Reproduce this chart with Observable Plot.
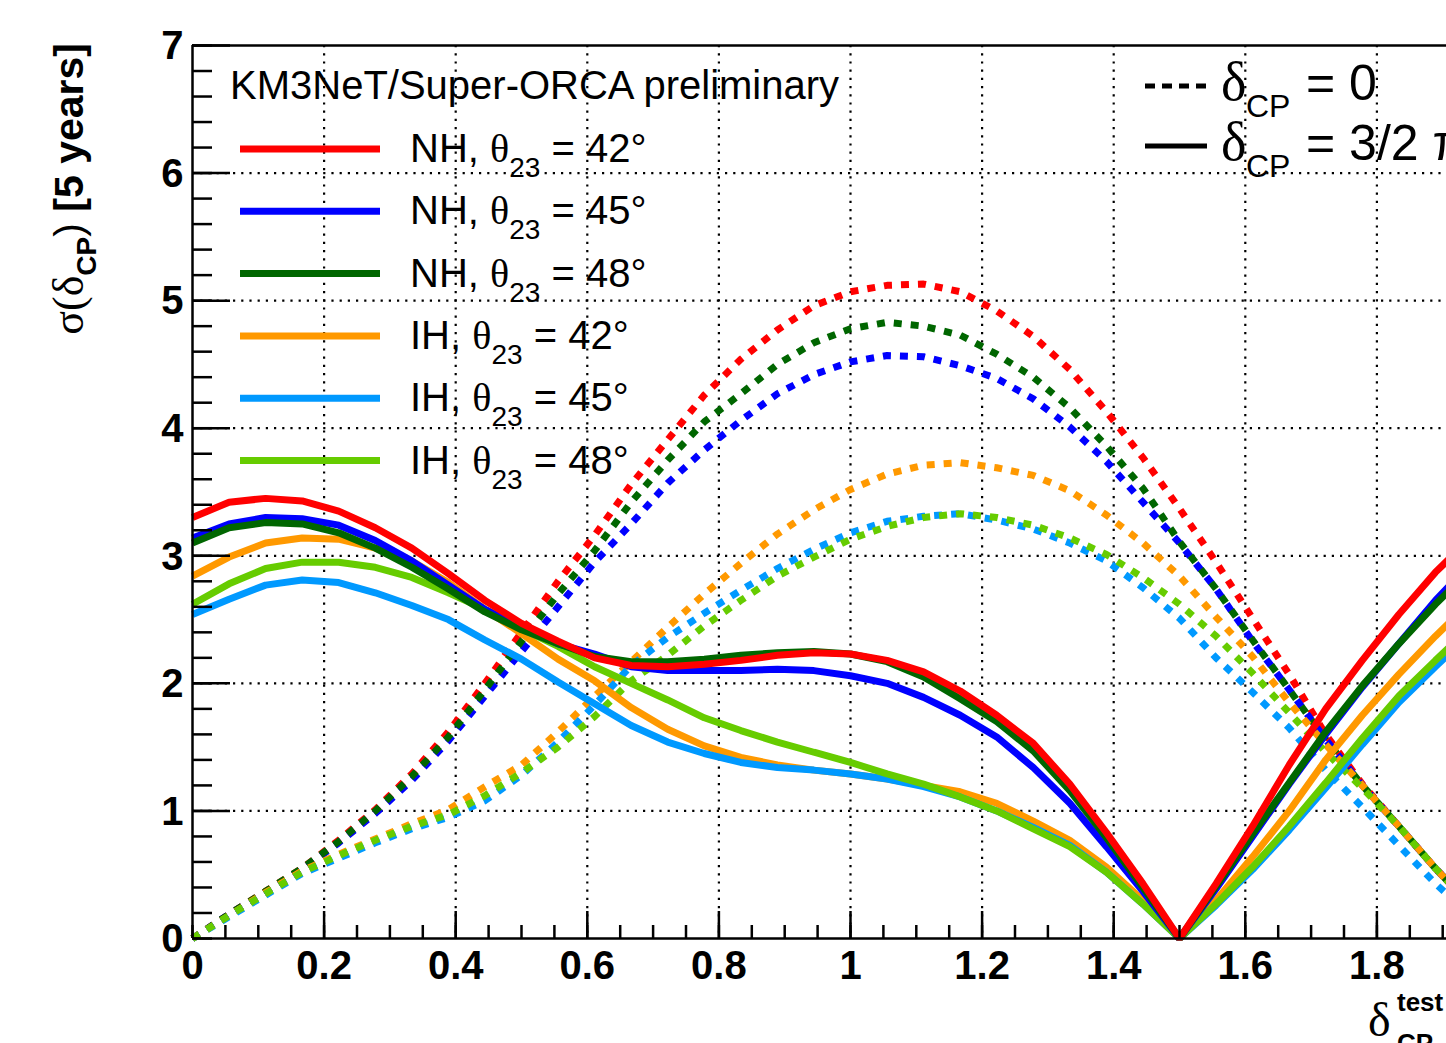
<!DOCTYPE html>
<html><head><meta charset="utf-8">
<script src="https://cdn.jsdelivr.net/npm/d3@7"></script>
<script src="https://cdn.jsdelivr.net/npm/@observablehq/plot@0.6"></script>
<style>
html,body{margin:0;padding:0;overflow:hidden;background:#fff;}
#chart{position:relative;width:1446px;height:1043px;overflow:hidden;}
#chart svg{max-width:none !important;display:block;}
</style></head><body><div id="chart"></div>
<script>
// ---- data ----
const xs = [0,0.0556,0.1111,0.1667,0.2222,0.2778,0.3333,0.3889,0.4444,0.5,0.5556,0.6111,0.6667,0.7222,0.7778,0.8333,0.8889,0.9444,1,1.0556,1.1111,1.1667,1.2222,1.2778,1.3333,1.3889,1.4444,1.5,1.5556,1.6111,1.6667,1.7222,1.7778,1.8333,1.8889,1.9444,2];

// true delta_CP = 3/2 (solid)
const nh42_s = [3.30,3.42,3.45,3.43,3.35,3.22,3.06,2.86,2.65,2.47,2.33,2.20,2.14,2.13,2.15,2.18,2.22,2.24,2.23,2.18,2.09,1.94,1.75,1.53,1.21,0.83,0.43,0,0.43,0.88,1.36,1.80,2.18,2.54,2.87,3.15];
const nh45_s = [3.14,3.25,3.30,3.29,3.24,3.12,2.96,2.77,2.58,2.44,2.31,2.23,2.13,2.10,2.10,2.10,2.11,2.10,2.06,2.00,1.89,1.75,1.58,1.34,1.06,0.72,0.37,0,0.39,0.80,1.21,1.60,1.97,2.31,2.65,2.95];
const nh48_s = [3.10,3.22,3.26,3.25,3.18,3.06,2.91,2.74,2.56,2.42,2.31,2.21,2.17,2.17,2.19,2.22,2.24,2.25,2.23,2.17,2.05,1.88,1.70,1.47,1.16,0.79,0.40,0,0.41,0.82,1.22,1.62,1.98,2.31,2.62,2.90];
const ih42_s = [2.84,2.99,3.10,3.14,3.13,3.06,2.96,2.79,2.58,2.39,2.19,2.02,1.81,1.64,1.51,1.42,1.36,1.32,1.29,1.25,1.20,1.15,1.06,0.92,0.77,0.56,0.30,0,0.30,0.64,1.00,1.40,1.75,2.07,2.37,2.65];
const ih45_s = [2.54,2.66,2.77,2.81,2.79,2.71,2.61,2.50,2.34,2.19,2.01,1.84,1.67,1.54,1.45,1.38,1.34,1.32,1.29,1.25,1.19,1.11,1.00,0.87,0.73,0.52,0.27,0,0.26,0.54,0.85,1.18,1.52,1.85,2.13,2.40];
const ih48_s = [2.62,2.78,2.90,2.95,2.95,2.91,2.83,2.71,2.58,2.43,2.29,2.13,2.00,1.87,1.73,1.63,1.54,1.46,1.38,1.29,1.21,1.11,1.00,0.86,0.72,0.52,0.27,0,0.27,0.56,0.88,1.22,1.57,1.90,2.18,2.45];

// true delta_CP = 0 (dotted)
const nh42_d = [0,0.19,0.37,0.55,0.77,1.01,1.29,1.62,2.00,2.40,2.80,3.16,3.56,3.91,4.26,4.54,4.77,4.96,5.07,5.12,5.13,5.07,4.92,4.72,4.46,4.13,3.77,3.37,2.95,2.51,2.07,1.60,1.21,0.88,0.55,0.25,0];
const nh45_d = [0,0.19,0.36,0.54,0.75,0.98,1.24,1.55,1.90,2.25,2.60,2.95,3.25,3.57,3.83,4.06,4.27,4.42,4.52,4.57,4.56,4.49,4.39,4.23,4.01,3.74,3.42,3.10,2.74,2.33,1.95,1.56,1.20,0.88,0.55,0.25,0];
const nh48_d = [0,0.19,0.37,0.55,0.76,1.00,1.27,1.58,1.95,2.33,2.70,3.04,3.42,3.75,4.05,4.27,4.50,4.67,4.78,4.83,4.80,4.73,4.58,4.40,4.16,3.86,3.53,3.11,2.74,2.34,1.95,1.56,1.20,0.88,0.55,0.25,0];
const ih42_d = [0,0.18,0.36,0.53,0.66,0.78,0.90,1.01,1.19,1.36,1.62,1.90,2.17,2.44,2.70,2.94,3.17,3.36,3.52,3.64,3.71,3.73,3.69,3.63,3.51,3.32,3.10,2.84,2.52,2.21,1.85,1.52,1.20,0.88,0.55,0.25,0];
const ih45_d = [0,0.17,0.34,0.51,0.63,0.75,0.86,0.95,1.08,1.28,1.54,1.83,2.14,2.36,2.55,2.73,2.90,3.05,3.18,3.27,3.31,3.33,3.28,3.21,3.10,2.96,2.75,2.51,2.20,1.93,1.65,1.32,1.03,0.73,0.43,0.17,0];
const ih48_d = [0,0.18,0.35,0.52,0.65,0.77,0.88,0.97,1.12,1.30,1.50,1.74,2.02,2.22,2.45,2.65,2.84,2.99,3.13,3.23,3.30,3.33,3.30,3.24,3.14,3.01,2.83,2.62,2.37,2.08,1.77,1.46,1.18,0.88,0.55,0.25,0];

const hierarchy = ["NH","NH","NH","IH","IH","IH"];
const theta23 = ["42","45","48","42","45","48"];
const xTickVals = [0,0.2,0.4,0.6,0.8,1,1.2,1.4,1.6,1.8];
const xTickLabels = ["0","0.2","0.4","0.6","0.8","1","1.2","1.4","1.6","1.8"];
const yTickVals = [0,1,2,3,4,5,6,7];
const yTickLabels = ["0","1","2","3","4","5","6","7"];

// ---- styles ----
const colors = ["#ff0000","#0000ff","#006600","#ff9900","#0099ff","#66cc00"];
const solids = [nh42_s, nh45_s, nh48_s, ih42_s, ih45_s, ih48_s];
const dotted = [nh42_d, nh45_d, nh48_d, ih42_d, ih45_d, ih48_d];
const dottedOrder = [0,1,2,3,4,5];
const solidOrder = [3,4,5,1,2,0];

const W = 1530, H = 1043, ML = 192, MR = 22, MT = 45, MB = 105;
const pxX = (W - ML - MR) / 2;
const pxY = (H - MT - MB) / 7;
const SANS = "'Liberation Sans', Arial, Helvetica, sans-serif";
const SERIF = "'Liberation Serif', 'Times New Roman', serif";

const toRows = vals => vals.map((v, i) => ({x: xs[i], y: v}));

const marks = [];
// grid
marks.push(Plot.ruleX([0.2,0.4,0.6,0.8,1,1.2,1.4,1.6,1.8,2], {stroke:"#000", strokeWidth:2.2, strokeDasharray:"2.2,6"}));
marks.push(Plot.ruleY([1,2,3,4,5,6], {stroke:"#000", strokeWidth:2.2, strokeDasharray:"2.2,6"}));
// dotted curves (true δCP = 0)
for (const i of dottedOrder) {
  marks.push(Plot.line(toRows(dotted[i]), {x:"x", y:"y", stroke: colors[i], strokeWidth:7, strokeDasharray:"8,9", strokeLinecap:"butt", strokeLinejoin:"miter"}));
}
// solid curves (true δCP = 3/2 π)
for (const i of solidOrder) {
  marks.push(Plot.line(toRows(solids[i]), {x:"x", y:"y", stroke: colors[i], strokeWidth:7, strokeLinecap:"butt", strokeLinejoin:"miter"}));
}
// ticks
const xMinor = d3.range(0, 2.0001, 0.05).map(v => +v.toFixed(2));
const yMinor = d3.range(0, 7.0001, 0.2).map(v => +v.toFixed(1));
marks.push(Plot.ruleX(xMinor, {y1:0, y2: 13/pxY, stroke:"#000", strokeWidth:2.5}));
marks.push(Plot.ruleX([0.2,0.4,0.6,0.8,1,1.2,1.4,1.6,1.8,2], {y1:0, y2: 27/pxY, stroke:"#000", strokeWidth:2.5}));
marks.push(Plot.ruleY(yMinor, {x1:0, x2: 20/pxX, stroke:"#000", strokeWidth:2.5}));
marks.push(Plot.ruleY([1,2,3,4,5,6,7], {x1:0, x2: 38/pxX, stroke:"#000", strokeWidth:2.5}));
// frame
marks.push(Plot.ruleY([0,7], {stroke:"#000", strokeWidth:2.5}));
marks.push(Plot.ruleX([0,2], {stroke:"#000", strokeWidth:2.5}));
// tick labels
marks.push(Plot.text(xTickVals, {x: d => d, y: 0, text: (d, i) => xTickLabels[i], dy: 28, fontSize: 40, fontWeight: "bold", fill:"#000"}));
marks.push(Plot.text(yTickVals, {x: 0, y: d => d, text: (d, i) => yTickLabels[i], dx: -9, dy: 1, textAnchor: "end", fontSize: 40, fontWeight: "bold", fill:"#000"}));

const plot = Plot.plot({
  width: W, height: H,
  marginLeft: ML, marginRight: MR, marginTop: MT, marginBottom: MB,
  x: {domain: [0, 2], axis: null},
  y: {domain: [0, 7], axis: null},
  style: {fontFamily: SANS, background: "#fff", maxWidth: "none", overflow: "visible"},
  marks
});
document.getElementById("chart").appendChild(plot);

// ---- annotations / legends ----
const svg = d3.select(plot);
const g = svg.append("g").attr("font-family", SANS).attr("fill", "#000").attr("text-anchor", "start");

g.append("text").attr("x", 230).attr("y", 99).attr("font-size", 40).text("KM3NeT/Super-ORCA preliminary");

const rowY0 = 149, rowStep = 62.3;
for (let i = 0; i < 6; i++) {
  const y = rowY0 + i * rowStep;
  g.append("line").attr("x1", 240).attr("x2", 380).attr("y1", y).attr("y2", y)
    .attr("stroke", colors[i]).attr("stroke-width", 7);
  const t = g.append("text").attr("x", 410).attr("y", y + 13).attr("font-size", 40);
  t.append("tspan").text(hierarchy[i] + ", ");
  t.append("tspan").attr("font-family", SERIF).text("θ");
  t.append("tspan").attr("font-size", 28).attr("dy", 15).text("23");
  t.append("tspan").attr("dy", -15).text(" = " + theta23[i] + "°");
}

// right legend (true δCP)
g.append("line").attr("x1", 1145).attr("x2", 1207).attr("y1", 86).attr("y2", 86)
  .attr("stroke", "#000").attr("stroke-width", 5).attr("stroke-dasharray", "10,7");
g.append("line").attr("x1", 1145).attr("x2", 1207).attr("y1", 146).attr("y2", 146)
  .attr("stroke", "#000").attr("stroke-width", 5);
const legR = [["= 0", 100], ["= 3/2 π", 160]];
for (const [s, y] of legR) {
  g.append("text").attr("x", 1221).attr("y", y).attr("font-size", 54).attr("font-family", SERIF).text("δ");
  g.append("text").attr("x", 1246).attr("y", y + 17).attr("font-size", 32).text("CP");
  g.append("text").attr("x", 1306).attr("y", y).attr("font-size", 50).text(s);
}

// y axis title
const yt = g.append("text").attr("transform", "translate(83,43) rotate(-90)")
  .attr("text-anchor", "end").attr("font-size", 41);
yt.append("tspan").attr("font-family", SERIF).attr("font-size", 44).text("σ(δ");
yt.append("tspan").attr("font-weight", "bold").attr("font-size", 28).attr("dy", 13).text("CP");
yt.append("tspan").attr("dy", -13).text(")");
yt.append("tspan").attr("font-weight", "bold").text(" [5 years]");

// x axis title
g.append("text").attr("x", 1368).attr("y", 1036).attr("font-size", 48).attr("font-family", SERIF).text("δ");
g.append("text").attr("x", 1397).attr("y", 1011).attr("font-size", 26).attr("font-weight", "bold").text("test");
g.append("text").attr("x", 1397).attr("y", 1052).attr("font-size", 26).attr("font-weight", "bold").text("CP");
</script>
</body></html>
